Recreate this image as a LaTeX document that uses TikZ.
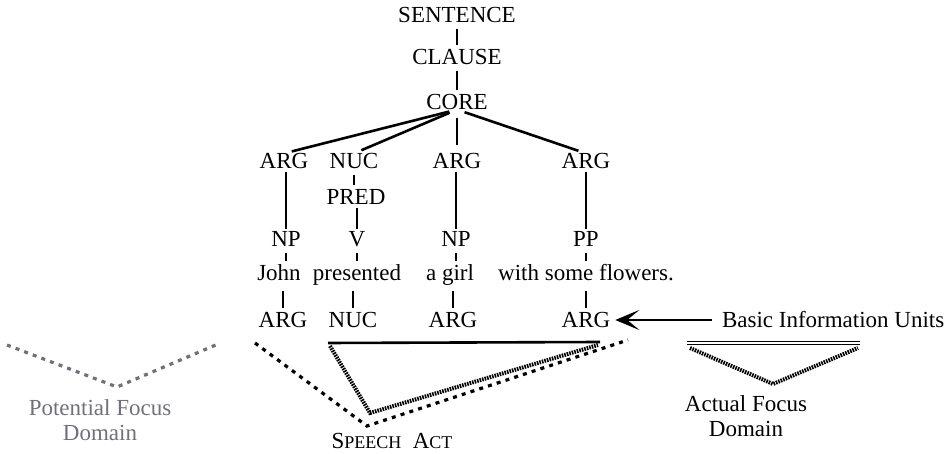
\documentclass[tikz,border=0pt]{standalone}
\usepackage{fontspec}
\setmainfont{Liberation Serif}
\usepackage{xcolor}
\usetikzlibrary{arrows.meta}
\definecolor{fadegray}{RGB}{112,112,124}
\newcommand{\smallcap}[1]{{\fontsize{9}{10}\selectfont #1}}
\tikzset{
    lab/.style={
        inner sep=0pt,
        outer sep=0pt,
        text height=7.6pt,
        text depth=0pt,
        font=\fontsize{11.5}{13}\selectfont
    },
    word/.style={lab,text depth=2.4pt},
    caption/.style={inner sep=0pt,align=center,font=\fontsize{11.5}{12.5}\selectfont},
    tickline/.style={line width=0.9pt,shorten <=3pt,shorten >=2pt},
    stemline/.style={line width=0.9pt,shorten <=1.5pt,shorten >=1pt},
    fanline/.style={line width=1.3pt,shorten <=4pt,shorten >=4pt},
    dotline/.style={line width=1.6pt,dash pattern=on 2pt off 2.6pt},
    hatchline/.style={line width=2pt,dash pattern=on 0.8pt off 0.5pt},
    x={(0.5pt,0)},
    y={(0,-0.5pt)}
}

\begin{document}
\begin{tikzpicture}
    \useasboundingbox (0,0) rectangle (950,454);
    % tree
    \node[lab] (sent) at (457,15) {SENTENCE};
    \node[lab] (clause) at (457,57) {CLAUSE};
    \node[lab] (core) at (457,102) {CORE};
    \node[lab] (argA) at (284,161) {ARG};
    \node[lab] (nucA) at (354,161) {NUC};
    \node[lab] (argB) at (457,161) {ARG};
    \node[lab] (argC) at (586,161) {ARG};
    \node[lab] (pred) at (356,197) {PRED};
    \node[lab] (npA) at (286,239) {NP};
    \node[lab] (verb) at (357,239) {V};
    \node[lab] (npB) at (456,239) {NP};
    \node[lab] (pp) at (586,239) {PP};
    \node[word] (john) at (279,275) {John};
    \node[word] (pres) at (357,275) {presented};
    \node[word] (girl) at (450,275) {a girl};
    \node[word] (flow) at (586,275) {with some flowers.};
    \node[lab] (argD) at (283,320) {ARG};
    \node[lab] (nucB) at (353,320) {NUC};
    \node[lab] (argE) at (453,320) {ARG};
    \node[lab] (argF) at (586,320) {ARG};
    \foreach \a/\b in {sent/clause,clause/core,nucA/pred,npA/john,verb/pres,npB/girl,pp/flow}
        \draw[tickline] (\a.south) -- (\a.south |- \b.north);
    \foreach \a/\b in {john/argD,pres/nucB,girl/argE,flow/argF}
        \draw[tickline] (\b.north |- \a.south) -- (\b.north);
    \foreach \a/\b in {argA/npA,pred/verb,argB/npB,argC/pp}
        \draw[stemline] (\b.north |- \a.south) -- (\b.north);
    \foreach \b in {argA,nucA,argB,argC}
        \draw[fanline] (core.south) -- (\b.north);
    % information units
    \node[lab,anchor=west] (biu) at (722,320) {Basic Information Units};
    \draw[line width=0.9pt,shorten <=5pt,shorten >=2.5pt,
          -{Stealth[open,length=12pt,width=10pt,inset=6pt,line width=1.4pt]}] (biu.west) -- (argF.east);
    % speech act
    \draw[dotline] (255,343) -- (367,426) -- (628,340);
    \draw[line width=1.3pt] (328,343) -- (600,342);
    \draw[hatchline] (330,346) -- (370,413) -- (598,345);
    \node[caption] (act) at (392,441) {S\smallcap{PEECH}\ \ A\smallcap{CT}};
    % focus domains
    \draw[dotline,fadegray] (7,345) -- (117,387) -- (218,344);
    \node[caption,text=fadegray] (pfd) at (100,420) {Potential Focus\\Domain};
    \draw[double,double distance=1pt,line width=0.7pt] (687,343) -- (860,343);
    \draw[hatchline] (690,348) -- (773,384) -- (858,348);
    \node[caption] (afd) at (746,416) {Actual Focus\\Domain};
\end{tikzpicture}
\end{document}
